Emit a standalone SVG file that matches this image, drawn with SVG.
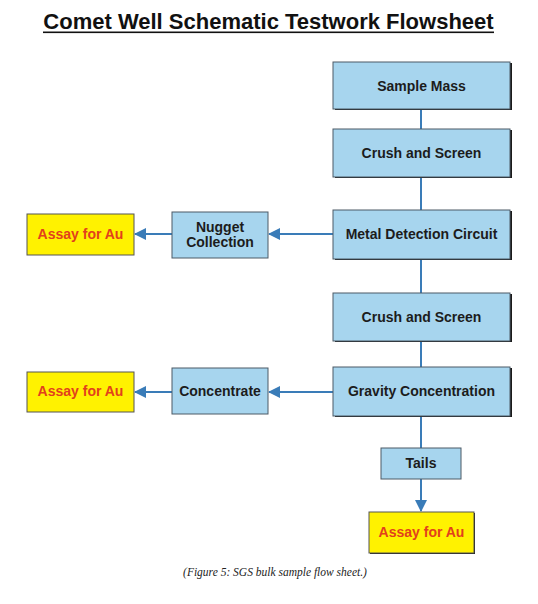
<svg xmlns="http://www.w3.org/2000/svg" width="538" height="604" viewBox="0 0 538 604">
<style>
.box{fill:#a7d5ee;stroke:#4d5a66;stroke-width:1}
.ybox{fill:#fff200;stroke:#555;stroke-width:1}
.sh{fill:#1a1a1a}
.t{font-family:"Liberation Sans",Arial,sans-serif;font-weight:bold;font-size:14px;fill:#1c1c1c;text-anchor:middle}
.r{fill:#e2401c}
.c{stroke:#3a7cb8;stroke-width:2;fill:none}
</style>
<defs>
<marker id="ah" markerUnits="userSpaceOnUse" markerWidth="12" markerHeight="12" viewBox="0 0 12 12" refX="11" refY="6" orient="auto">
<path d="M0,0 L12,6 L0,12 Z" fill="#3a7cb8"/>
</marker>
</defs>
<rect width="538" height="604" fill="#fff"/>
<g id="title">
<text x="268.5" y="29" font-family="Liberation Sans,Arial,sans-serif" font-weight="bold" font-size="22" fill="#111" text-anchor="middle">Comet Well Schematic Testwork Flowsheet</text>
<rect x="43" y="31.5" width="451" height="1.6" fill="#111"/>
</g>
<g id="connectors">
<line class="c" x1="421" y1="109" x2="421" y2="129"/>
<line class="c" x1="421" y1="177" x2="421" y2="210"/>
<line class="c" x1="421" y1="259" x2="421" y2="293"/>
<line class="c" x1="421" y1="341" x2="421" y2="367"/>
<line class="c" x1="421" y1="416" x2="421" y2="448"/>
<line class="c" x1="421" y1="479" x2="421" y2="511" marker-end="url(#ah)"/>
<line class="c" x1="333" y1="234" x2="269" y2="234" marker-end="url(#ah)"/>
<line class="c" x1="172" y1="234" x2="135" y2="234" marker-end="url(#ah)"/>
<line class="c" x1="333" y1="392" x2="269" y2="392" marker-end="url(#ah)"/>
<line class="c" x1="172" y1="392" x2="135" y2="392" marker-end="url(#ah)"/>
</g>
<g id="sample-mass">
<rect class="sh" x="335" y="63" width="177" height="47"/>
<rect class="box" x="333" y="62" width="177" height="47"/>
<text class="t" x="421.5" y="91">Sample Mass</text>
</g>
<g id="crush-screen-1">
<rect class="sh" x="335" y="130" width="177" height="48"/>
<rect class="box" x="333" y="129" width="177" height="48"/>
<text class="t" x="421.5" y="158">Crush and Screen</text>
</g>
<g id="metal-detection">
<rect class="sh" x="335" y="211" width="177" height="49"/>
<rect class="box" x="333" y="210" width="177" height="49"/>
<text class="t" x="421.5" y="239">Metal Detection Circuit</text>
</g>
<g id="crush-screen-2">
<rect class="sh" x="335" y="294" width="177" height="48"/>
<rect class="box" x="333" y="293" width="177" height="48"/>
<text class="t" x="421.5" y="322">Crush and Screen</text>
</g>
<g id="gravity">
<rect class="sh" x="335" y="368" width="177" height="49"/>
<rect class="box" x="333" y="367" width="177" height="49"/>
<text class="t" x="421.5" y="396">Gravity Concentration</text>
</g>
<g id="tails">
<rect class="box" x="381" y="448" width="80" height="31"/>
<text class="t" x="421" y="468">Tails</text>
</g>
<g id="assay-3">
<rect class="sh" x="370" y="513" width="105" height="41"/>
<rect class="ybox" x="369" y="512" width="105" height="41"/>
<text class="t r" x="421.5" y="537">Assay for Au</text>
</g>
<g id="nugget">
<rect class="box" x="172" y="212" width="96" height="46"/>
<text class="t" x="220" y="232">Nugget</text>
<text class="t" x="220" y="247">Collection</text>
</g>
<g id="assay-1">
<rect class="ybox" x="27" y="214" width="107" height="41"/>
<text class="t r" x="80.5" y="239">Assay for Au</text>
</g>
<g id="concentrate">
<rect class="box" x="172" y="368" width="96" height="46"/>
<text class="t" x="220" y="396">Concentrate</text>
</g>
<g id="assay-2">
<rect class="ybox" x="27" y="372" width="107" height="40"/>
<text class="t r" x="80.5" y="396">Assay for Au</text>
</g>
<g id="caption">
<text x="275" y="576" font-family="Liberation Serif,'Times New Roman',serif" font-style="italic" font-size="11.5" fill="#222" text-anchor="middle">(Figure 5: SGS bulk sample flow sheet.)</text>
</g>
</svg>
